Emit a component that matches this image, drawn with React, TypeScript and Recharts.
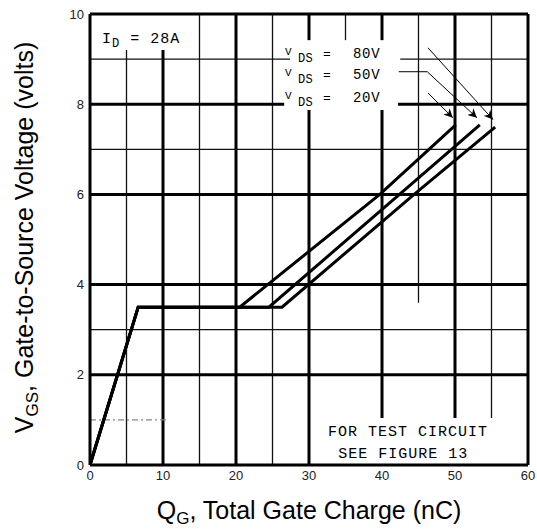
import React from 'react';
import { LineChart, Line, XAxis, YAxis, ReferenceLine, ReferenceDot, Label } from 'recharts';

// ---- data ----
const xTicks = [0, 10, 20, 30, 40, 50, 60];
const yTicks = [0, 2, 4, 6, 8, 10];

const qg20V = [0, 6.6, 20.5, 39.7, 50.1];
const vgs20V = [0, 3.5, 3.5, 6.0, 7.54];
const qg50V = [0, 6.6, 24.5, 42.4, 53.4];
const vgs50V = [0, 3.5, 3.5, 6.0, 7.54];
const qg80V = [0, 6.6, 26.3, 44.4, 55.5];
const vgs80V = [0, 3.5, 3.5, 6.0, 7.49];

// leader lines from the legend labels to the curve ends
const lead80X = [46.3, 55.2];
const lead80Y = [9.25, 7.66];
const lead50X = [42.3, 46.2, 53.0];
const lead50Y = [8.72, 8.72, 7.7];
const lead20X = [46.3, 49.7];
const lead20Y = [8.25, 7.7];

const seriesLabels = ['80V', '50V', '20V'];

// grid segments [x or y, from, to, kind]
const gridV: [number, number, number, string][] = [
  [5, 0, 9.2, 'minor'], [10, 0, 9.2, 'major'], [15, 0, 10, 'minor'], [20, 0, 10, 'major'],
  [25, 0, 10, 'minor'], [30, 0, 7.87, 'major'], [30, 9.42, 10, 'major'], [35, 9.42, 10, 'minor'],
  [40, 1.04, 7.87, 'major'], [40, 9.42, 10, 'major'], [45, 3.6, 10, 'minor'],
  [50, 1.04, 10, 'major'], [55, 1.04, 10, 'minor'],
];
const gridH: [number, number, number, string][] = [
  [1, 0, 10.7, 'faint'], [2, 0, 60, 'major'], [3, 0, 60, 'minor'], [4, 0, 60, 'major'],
  [6, 0, 60, 'major'], [7, 0, 60, 'minor'], [8, 0, 26.6, 'major'], [8, 42.2, 60, 'major'],
  [9, 0, 27.4, 'minor'], [9, 42.5, 60, 'minor'],
];

const zip = (xs: number[], ys: number[]) => xs.map((x, i) => ({ x, y: ys[i] }));

const d20 = zip(qg20V, vgs20V);
const d50 = zip(qg50V, vgs50V);
const d80 = zip(qg80V, vgs80V);
const l80 = zip(lead80X, lead80Y);
const l50 = zip(lead50X, lead50Y);
const l20 = zip(lead20X, lead20Y);

const styleOf = (kind: string) => {
  if (kind === 'major') return { stroke: '#000', strokeWidth: 3 };
  if (kind === 'minor') return { stroke: '#111', strokeWidth: 1.3 };
  return { stroke: '#888', strokeWidth: 1.2, strokeDasharray: '6 3 2 3' };
};

const MONO = '"Liberation Mono", "DejaVu Sans Mono", monospace';
const SANS = '"Liberation Sans", Arial, sans-serif';

const IdLabel = (props: any) => {
  const vb = props.viewBox || {};
  const x = vb.x ?? 102;
  const y = vb.y ?? 43;
  return (
    <text x={x} y={y} fontFamily={MONO} fontSize={15} letterSpacing={1} fill="#000">
      <tspan>I</tspan>
      <tspan fontSize={12} dy={4}>D</tspan>
      <tspan dy={-4}> = 28A</tspan>
    </text>
  );
};

const makeVdsLabel = (val: string) => (props: any) => {
  const vb = props.viewBox || {};
  const x = vb.x ?? 286;
  const y = vb.y ?? 58;
  return (
    <text x={x} y={y} fontFamily={MONO} fill="#000">
      <tspan x={x} dy={-3} fontSize={11}>V</tspan>
      <tspan x={x + 13} dy={7} fontSize={12} letterSpacing={0.5}>DS</tspan>
      <tspan x={x + 38} dy={-4} fontSize={13}>=</tspan>
      <tspan x={x + 68} fontSize={14} letterSpacing={0.8}>{val}</tspan>
    </text>
  );
};

const TextLine = (txt: string) => (props: any) => {
  const vb = props.viewBox || {};
  return (
    <text x={vb.x} y={vb.y} fontFamily={MONO} fontSize={15} letterSpacing={1} fill="#000">
      {txt}
    </text>
  );
};

const XTitle = (props: any) => {
  const vb = props.viewBox || { x: 90, y: 465, width: 438, height: 40 };
  const cx = vb.x + vb.width / 2;
  return (
    <text x={cx} y={vb.y + 54} textAnchor="middle" fontFamily={SANS} fontSize={25} fill="#000">
      <tspan>Q</tspan>
      <tspan fontSize={17} dy={5}>G</tspan>
      <tspan dy={-5}>, Total Gate Charge (nC)</tspan>
    </text>
  );
};

const YTitle = (props: any) => {
  const vb = props.viewBox || { x: 30, y: 14, width: 60, height: 451 };
  const cx = vb.x + 3;
  const cy = vb.y + vb.height / 2 - 2;
  return (
    <text
      x={cx}
      y={cy}
      transform={`rotate(-90 ${cx} ${cy})`}
      textAnchor="middle"
      fontFamily={SANS}
      fontSize={25}
      fill="#000"
    >
      <tspan>V</tspan>
      <tspan fontSize={17} dy={5}>GS</tspan>
      <tspan dy={-5}>, Gate-to-Source Voltage (volts)</tspan>
    </text>
  );
};

const tickStyle = { fontFamily: SANS, fontSize: 13, fill: '#222' };

export default function App() {
  return (
    <div style={{ position: 'absolute', left: 0, top: 0, background: '#fff' }}>
      <LineChart
        width={537}
        height={529}
        margin={{ top: 14, right: 9, bottom: 24, left: 30 }}
      >
        <defs>
          <marker id="arrowHead" viewBox="0 0 10 10" refX="10" refY="5" markerWidth="9" markerHeight="9" markerUnits="userSpaceOnUse" orient="auto">
            <path d="M0,0 L10,5 L0,10 L3,5 Z" fill="#000" />
          </marker>
        </defs>
        <XAxis
          type="number"
          dataKey="x"
          domain={[0, 60]}
          ticks={xTicks}
          axisLine={false}
          tickLine={false}
          tickSize={0}
          tickMargin={6}
          tick={tickStyle}
          height={40}
          allowDataOverflow
        >
          <Label content={XTitle} />
        </XAxis>
        <YAxis
          type="number"
          dataKey="y"
          domain={[0, 10]}
          ticks={yTicks}
          axisLine={false}
          tickLine={false}
          tickSize={0}
          tickMargin={6}
          tick={tickStyle}
          width={60}
          allowDataOverflow
        >
          <Label content={YTitle} />
        </YAxis>

        {gridV.map(([x, a, b, k], i) => (
          <ReferenceLine key={'v' + i} segment={[{ x, y: a }, { x, y: b }]} {...styleOf(k)} />
        ))}
        {gridH.map(([y, a, b, k], i) => (
          <ReferenceLine key={'h' + i} segment={[{ x: a, y }, { x: b, y }]} {...styleOf(k)} />
        ))}
        <ReferenceLine x={0} stroke="#000" strokeWidth={3} />
        <ReferenceLine x={60} stroke="#000" strokeWidth={3} />
        <ReferenceLine y={0} stroke="#000" strokeWidth={3} />
        <ReferenceLine y={10} stroke="#000" strokeWidth={3} />

        <ReferenceDot x={1.64} y={9.36} r={0} stroke="none" fill="none" label={<Label content={IdLabel} />} />
        <ReferenceDot x={26.7} y={9.02} r={0} stroke="none" fill="none" label={<Label content={makeVdsLabel(seriesLabels[0])} />} />
        <ReferenceDot x={26.7} y={8.55} r={0} stroke="none" fill="none" label={<Label content={makeVdsLabel(seriesLabels[1])} />} />
        <ReferenceDot x={26.7} y={8.05} r={0} stroke="none" fill="none" label={<Label content={makeVdsLabel(seriesLabels[2])} />} />
        <ReferenceDot x={32.6} y={0.64} r={0} stroke="none" fill="none" label={<Label content={TextLine('FOR TEST CIRCUIT')} />} />
        <ReferenceDot x={34.0} y={0.155} r={0} stroke="none" fill="none" label={<Label content={TextLine('SEE FIGURE 13')} />} />

        <Line data={d20} dataKey="y" stroke="#000" strokeWidth={3} dot={false} isAnimationActive={false} type="linear" />
        <Line data={d50} dataKey="y" stroke="#000" strokeWidth={3} dot={false} isAnimationActive={false} type="linear" />
        <Line data={d80} dataKey="y" stroke="#000" strokeWidth={3} dot={false} isAnimationActive={false} type="linear" />

        <Line data={l80} dataKey="y" stroke="#000" strokeWidth={1} dot={false} isAnimationActive={false} type="linear" markerEnd="url(#arrowHead)" />
        <Line data={l50} dataKey="y" stroke="#000" strokeWidth={1} dot={false} isAnimationActive={false} type="linear" markerEnd="url(#arrowHead)" />
        <Line data={l20} dataKey="y" stroke="#000" strokeWidth={1} dot={false} isAnimationActive={false} type="linear" markerEnd="url(#arrowHead)" />
      </LineChart>
    </div>
  );
}
